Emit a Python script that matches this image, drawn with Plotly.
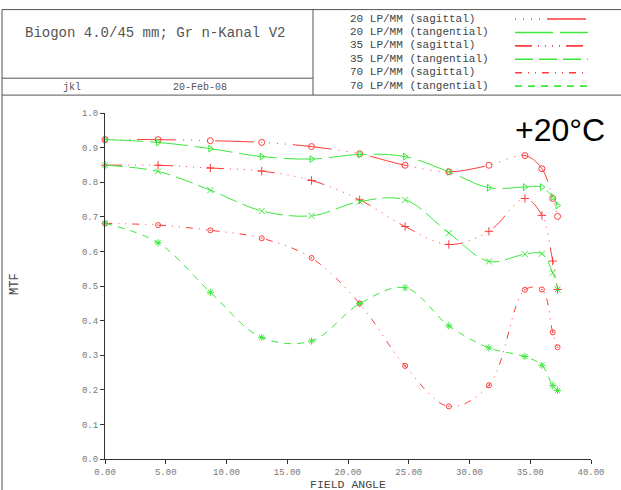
import plotly.graph_objects as go

# ---- data ----
field_angle = [0, 4.37, 8.67, 12.9, 17.0, 20.96, 24.7, 28.3, 31.6, 34.56, 35.96, 36.85, 37.25]
mtf_20_sag = [0.923, 0.923, 0.920, 0.915, 0.903, 0.882, 0.849, 0.830, 0.849, 0.877, 0.839, 0.753, 0.701]
mtf_20_tan = [0.923, 0.915, 0.897, 0.874, 0.867, 0.880, 0.874, 0.830, 0.784, 0.786, 0.786, 0.757, 0.733]
mtf_35_sag = [0.849, 0.849, 0.841, 0.832, 0.805, 0.749, 0.672, 0.620, 0.658, 0.753, 0.704, 0.572, 0.490]
mtf_35_tan = [0.849, 0.831, 0.777, 0.717, 0.703, 0.744, 0.749, 0.653, 0.571, 0.592, 0.593, 0.538, 0.490]
mtf_70_sag = [0.681, 0.676, 0.661, 0.638, 0.581, 0.449, 0.269, 0.152, 0.213, 0.489, 0.490, 0.366, 0.323]
mtf_70_tan = [0.681, 0.625, 0.482, 0.351, 0.341, 0.449, 0.495, 0.385, 0.321, 0.296, 0.271, 0.212, 0.198]

series_names = ["20 LP/MM (sagittal)", "20 LP/MM (tangential)", "35 LP/MM (sagittal)",
                "35 LP/MM (tangential)", "70 LP/MM (sagittal)", "70 LP/MM (tangential)"]
x_ticks = [0, 5, 10, 15, 20, 25, 30, 35, 40]
y_ticks = [0.0, 0.1, 0.2, 0.3, 0.4, 0.5, 0.6, 0.7, 0.8, 0.9, 1.0]
title_text = "Biogon 4.0/45 mm; Gr n-Kanal V2"
author_text = "jkl"
date_text = "20-Feb-08"
temp_text = "+20°C"
x_title = "FIELD ANGLE"
y_title = "MTF"

# ---- styles ----
RED = "#ff3b3b"
GREEN = "#3be83b"
styles = [
    dict(color=RED, dash="1px,7px,1px,7px,1px,7px,1px,7px,39px,7px", symbol="circle-open", size=6),
    dict(color=GREEN, dash="38px,7px", symbol="triangle-right-open", size=6),
    dict(color=RED, dash="17px,6px,1px,6px,1px,6px,1px,6px,1px,6px", symbol="cross-thin-open", size=6),
    dict(color=GREEN, dash="18px,6px", symbol="x-thin-open", size=6),
    dict(color=RED, dash="7px,6px,1px,6px,1px,6px", symbol="circle-open-dot", size=5),
    dict(color=GREEN, dash="7px,6px", symbol="asterisk-open", size=6),
]
data = [mtf_20_sag, mtf_20_tan, mtf_35_sag, mtf_35_tan, mtf_70_sag, mtf_70_tan]

W, H = 621, 490
ML, MR, MT, MB = 105, 30, 113, 29
PW, PH = W - ML - MR, H - MT - MB


def xp(px):
    return (px - ML) / PW


def yp(py):
    return (H - MB - py) / PH


fig = go.Figure()
for name, ys, st in zip(series_names, data, styles):
    fig.add_trace(go.Scatter(
        x=field_angle, y=ys, name=name, mode="lines+markers",
        line=dict(color=st["color"], width=1, dash=st["dash"], shape="spline", smoothing=1),
        marker=dict(symbol=st["symbol"], size=st["size"], color=st["color"],
                    line=dict(color=st["color"], width=1)),
        showlegend=False, cliponaxis=False,
    ))

shapes = []
frame = dict(color="#555", width=1)
# header frame
shapes.append(dict(type="line", xref="paper", yref="paper", x0=xp(2), x1=xp(W + 5), y0=yp(9), y1=yp(9), line=frame))
shapes.append(dict(type="line", xref="paper", yref="paper", x0=xp(2), x1=xp(2), y0=yp(9), y1=yp(H + 5), line=frame))
shapes.append(dict(type="line", xref="paper", yref="paper", x0=xp(2), x1=xp(313), y0=yp(78), y1=yp(78), line=frame))
shapes.append(dict(type="line", xref="paper", yref="paper", x0=xp(313), x1=xp(313), y0=yp(9), y1=yp(95), line=frame))
shapes.append(dict(type="line", xref="paper", yref="paper", x0=xp(2), x1=xp(W + 5), y0=yp(95), y1=yp(95), line=frame))

annotations = []
mono = "Liberation Mono"


def label(text, x, y, size, color="#555", family=mono, xanchor="center", angle=0):
    annotations.append(dict(text=text, xref="paper", yref="paper", x=xp(x), y=yp(y),
                            xanchor=xanchor, yanchor="middle", showarrow=False, textangle=angle,
                            font=dict(family=family, size=size, color=color)))


label(title_text, 155, 33, 14)
label(author_text, 72, 87.5, 10)
label(date_text, 200, 87.5, 10)

# legend block (text + line samples)
row_y = [18.0, 31.5, 45.0, 58.5, 72.0, 85.5]
for name, st, ry in zip(series_names, styles, row_y):
    label(name, 348, ry, 11, color="#444", xanchor="left")
    shapes.append(dict(type="line", xref="paper", yref="paper", x0=xp(515), x1=xp(588),
                       y0=yp(ry + 0.5), y1=yp(ry + 0.5),
                       line=dict(color=st["color"], width=1.6, dash=st["dash"])))

label(temp_text, 560, 130.5, 32, color="#000", family="Liberation Sans")
label(x_title, 348, 486.5, 11.5, color="#444")
label(y_title, 15, 285, 12, color="#444", angle=-90)

fig.update_layout(
    width=W, height=H, autosize=False,
    margin=dict(l=ML, r=MR, t=MT, b=MB, pad=0),
    paper_bgcolor="white", plot_bgcolor="white",
    shapes=shapes, annotations=annotations,
    xaxis=dict(range=[0, 40], tickvals=x_ticks, tickformat=".2f", showgrid=False, zeroline=False,
               showline=True, linecolor="#333", linewidth=1.2, ticks="outside", ticklen=4,
               tickcolor="#333", tickfont=dict(family=mono, size=9, color="#777")),
    yaxis=dict(range=[0, 1], tickvals=y_ticks, tickformat=".1f", showgrid=False, zeroline=False,
               showline=True, linecolor="#333", linewidth=1.2, ticks="outside", ticklen=4,
               tickcolor="#333", tickfont=dict(family=mono, size=9, color="#777")),
)

fig.write_html("out.html", config={"displayModeBar": False},
               post_script="document.body.style.margin='0';document.body.style.overflow='hidden';")
